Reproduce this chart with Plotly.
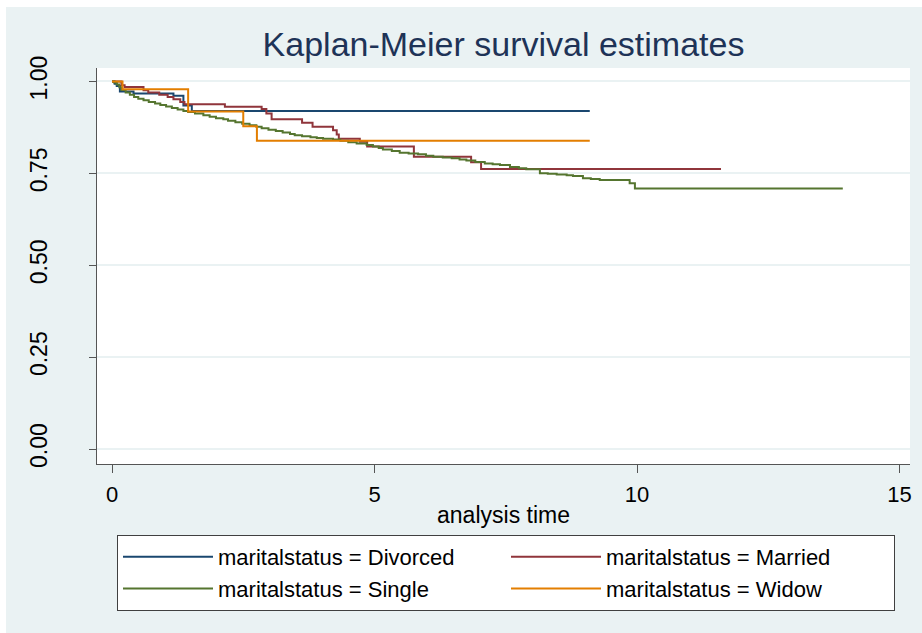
import plotly.graph_objects as go

# ---- data (Kaplan-Meier step estimates) ----
div_t = [0, 0.05, 0.09, 0.15, 0.41, 1.17, 1.36, 1.52, 9.1]
div_s = [1.0, 0.994, 0.988, 0.973, 0.967, 0.961, 0.935, 0.920, 0.920]

mar_t = [0, 0.18, 0.24, 0.6, 0.69, 0.9, 1.06, 1.17, 1.3, 1.38, 2.15, 2.85, 2.94,
         3.04, 3.62, 3.82, 4.21, 4.28, 4.32, 4.72, 4.86, 5.75, 6.84, 7.03, 11.6]
mar_s = [1.0, 0.990, 0.985, 0.976, 0.970, 0.964, 0.958, 0.952, 0.944, 0.938, 0.931,
         0.925, 0.913, 0.897, 0.888, 0.877, 0.867, 0.856, 0.844, 0.836, 0.823, 0.795,
         0.780, 0.762, 0.762]

sin_t = [0, 0.04, 0.09, 0.14, 0.18, 0.26, 0.34, 0.42, 0.5, 0.6, 0.7, 0.82, 0.92, 1.03,
         1.14, 1.25, 1.36, 1.45, 1.58, 1.74, 1.86, 1.98, 2.12, 2.21, 2.35, 2.48, 2.62,
         2.75, 2.85, 2.98, 3.12, 3.25, 3.39, 3.48, 3.62, 3.78, 3.9, 4.02, 4.21, 4.35,
         4.5, 4.66, 4.85, 4.97, 5.08, 5.16, 5.33, 5.48, 5.65, 5.83, 5.98, 6.12, 6.3,
         6.47, 6.62, 6.75, 6.92, 7.1, 7.25, 7.39, 7.58, 7.75, 7.89, 8.15, 8.3, 8.47,
         8.66, 8.78, 8.97, 9.12, 9.29, 9.86, 9.96, 13.92]
sin_s = [1.0, 0.997, 0.992, 0.984, 0.977, 0.970, 0.964, 0.958, 0.953, 0.949, 0.944,
         0.940, 0.936, 0.932, 0.928, 0.924, 0.920, 0.917, 0.913, 0.908, 0.904, 0.900,
         0.897, 0.893, 0.889, 0.885, 0.881, 0.877, 0.873, 0.869, 0.865, 0.861, 0.857,
         0.854, 0.851, 0.848, 0.846, 0.844, 0.842, 0.839, 0.835, 0.831, 0.827, 0.823,
         0.819, 0.815, 0.811, 0.806, 0.804, 0.802, 0.798, 0.795, 0.793, 0.791, 0.788,
         0.785, 0.781, 0.777, 0.775, 0.773, 0.767, 0.764, 0.761, 0.750, 0.749, 0.747,
         0.745, 0.743, 0.737, 0.735, 0.732, 0.723, 0.709, 0.709]

wid_t = [0, 0.2, 1.45, 2.5, 2.76, 9.1]
wid_s = [1.0, 0.979, 0.918, 0.878, 0.839, 0.839]

series_names = ["maritalstatus = Divorced", "maritalstatus = Married",
                "maritalstatus = Single", "maritalstatus = Widow"]
x_ticks = [0, 5, 10, 15]
y_ticks = [0.0, 0.25, 0.5, 0.75, 1.0]
y_tick_text = ["0.00", "0.25", "0.50", "0.75", "1.00"]

colors = ["#1a476f", "#90353b", "#55752f", "#e37e00"]
BG = "#eaf2f3"
FONT = "Liberation Sans, Arial, sans-serif"

fig = go.Figure()
for name, tx, sv, c in zip(series_names, [div_t, mar_t, sin_t, wid_t],
                           [div_s, mar_s, sin_s, wid_s], colors):
    fig.add_trace(go.Scatter(x=tx, y=sv, mode="lines", name=name,
                             line=dict(color=c, width=2, shape="hv")))

W, H = 922, 633
L, R, T, B = 97, 12, 68, 169
PW, PH = W - L - R, H - T - B

fig.update_layout(
    width=W, height=H,
    margin=dict(l=L, r=R, t=T, b=B, pad=0, autoexpand=False),
    paper_bgcolor=BG, plot_bgcolor="white",
    font=dict(family=FONT, color="black"),
    title=dict(text="Kaplan-Meier survival estimates", x=(L + PW / 2) / W,
               xanchor="center", y=1 - 44 / H, yanchor="middle",
               font=dict(size=34, color="#1e3357", family=FONT)),
    xaxis=dict(range=[-0.286, 15.2], tickvals=x_ticks, ticks="outside", ticklen=8,
               tickcolor="#555555", showline=True, linecolor="#555555", linewidth=1,
               showgrid=False, zeroline=False, tickfont=dict(size=22),
               ticklabelstandoff=3,
               title=dict(text="analysis time", font=dict(size=23), standoff=0)),
    yaxis=dict(range=[-0.0408, 1.0367], tickvals=y_ticks, ticktext=y_tick_text,
               ticks="outside", ticklen=7, tickcolor="#555555", showline=True,
               linecolor="#555555", linewidth=1, showgrid=True, gridcolor=BG,
               gridwidth=2, zeroline=False, tickangle=-90, tickfont=dict(size=23),
               ticklabelstandoff=33),
    legend=dict(orientation="h", x=(506 - L) / PW, xanchor="center",
                y=(464 - 535) / PH, yanchor="top",
                bgcolor="white", bordercolor="#404040", borderwidth=1,
                font=dict(size=22, family=FONT), entrywidth=283, entrywidthmode="pixels",
                itemwidth=90, traceorder="normal", tracegroupgap=0),
    showlegend=True,
)

# white outer strips (top and left) of the reference image
fig.add_shape(type="rect", xref="paper", yref="paper", x0=-L / PW, x1=1 + R / PW,
              y0=1 + (T - 7) / PH, y1=1 + T / PH, fillcolor="white",
              line_width=0, layer="below")
fig.add_shape(type="rect", xref="paper", yref="paper", x0=-L / PW, x1=-(L - 6) / PW,
              y0=-B / PH, y1=1 + T / PH, fillcolor="white",
              line_width=0, layer="below")

fig.write_html("out.html")
